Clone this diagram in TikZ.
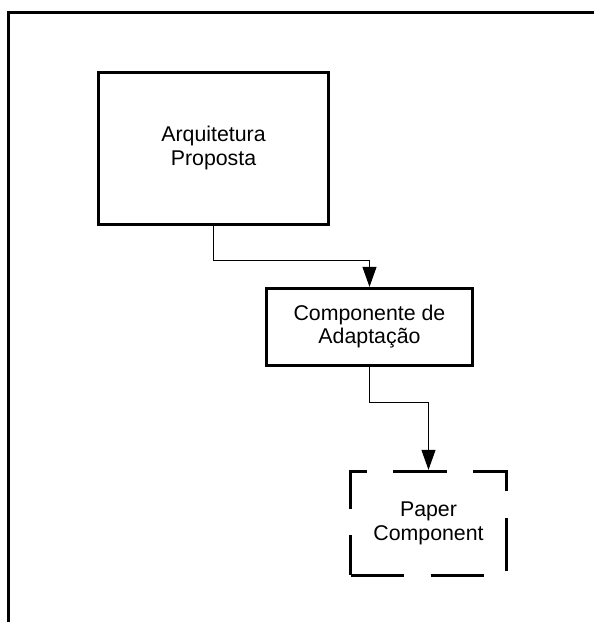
\documentclass[tikz,border=0pt]{standalone}
\usepackage{fontspec}
\setmainfont{Liberation Sans}
\usepackage{tikz}
\usetikzlibrary{arrows.meta,positioning}
\tikzset{
    bloco/.style={
        rectangle,
        draw,
        line width=2.25pt,
        align=center,
        inner sep=0pt,
        font=\fontsize{16}{17.5}\selectfont
    },
    blocoTracejado/.style={bloco, dash pattern=on 40pt off 20pt},
    fluxo/.style={-{Triangle[length=15pt,width=10.5pt]}, line width=0.75pt},
    moldura/.style={line width=2.25pt}
}

\begin{document}
\begin{tikzpicture}[x=0.75pt, y=-0.75pt]
        \useasboundingbox (0,0) rectangle (594,622);
        \draw[moldura] (8.5,622) -- (8.5,12.8) -- (594,12.8);

        \node[bloco, minimum width=172pt, minimum height=114pt] (arquitetura) at (213.5,148) {Arquitetura\\Proposta};
        \node[bloco, minimum width=154.5pt, minimum height=57.5pt, below=46pt of arquitetura, xshift=117pt] (adaptacao) {Componente de\\Adaptação};
        \node[blocoTracejado, minimum width=117pt, minimum height=78pt, below=77.5pt of adaptacao, xshift=44.25pt] (paper) {Paper\\Component};

        \draw[fluxo] (arquitetura.south) -- ++(0,-26.6pt) -| (adaptacao.north);
        \draw[fluxo] (adaptacao.south) -- ++(0,-27pt) -| (paper.north);
    \end{tikzpicture}
\end{document}
